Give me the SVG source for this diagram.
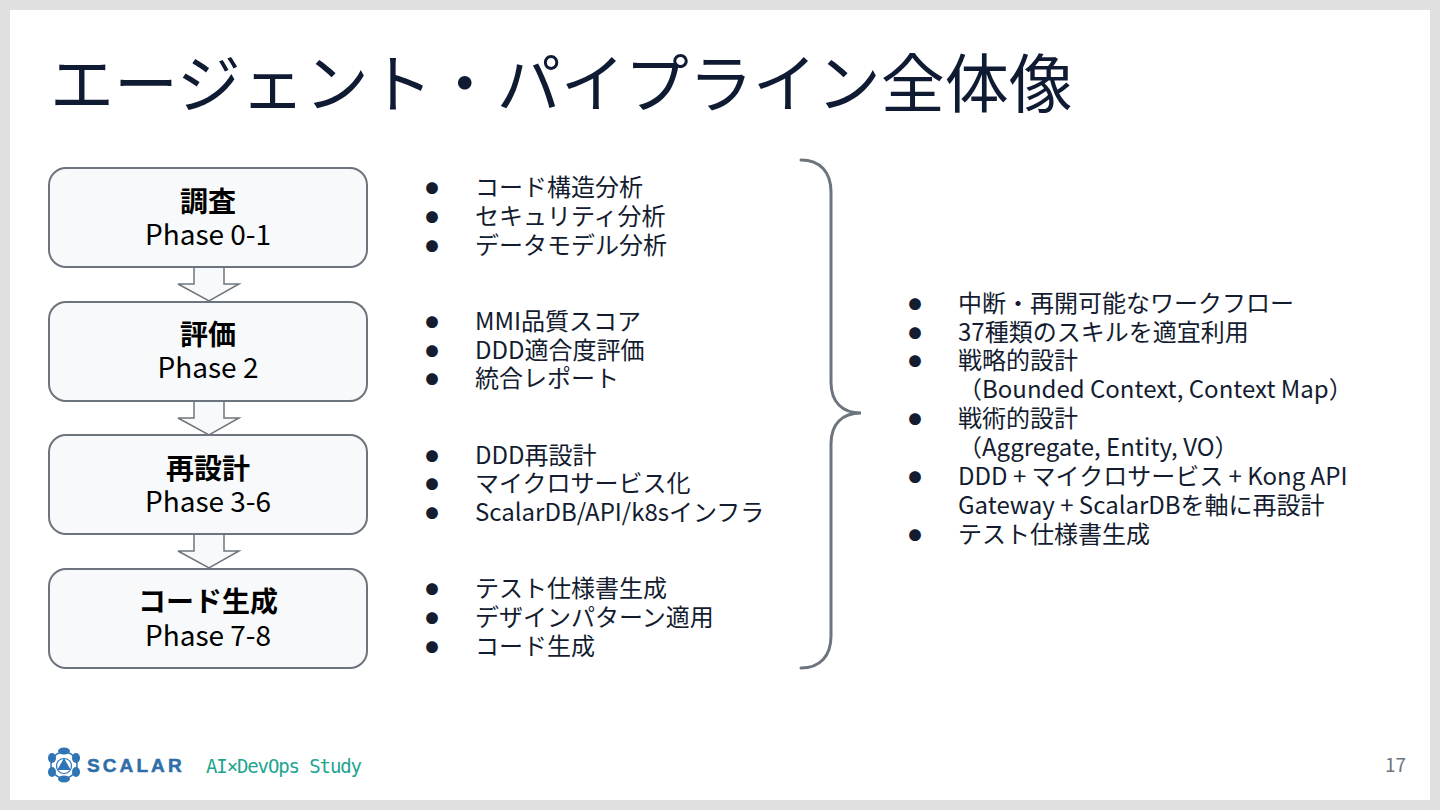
<svg xmlns="http://www.w3.org/2000/svg" width="1440" height="810" viewBox="0 0 1440 810">
<style>
text{font-family:"Noto Sans CJK JP","Noto Sans",sans-serif;fill:#000}
.t{font-size:24px;fill:#141c30}
.d{font-size:13px;fill:#141c30;text-anchor:middle}
.h{font-size:28px;font-weight:700;text-anchor:middle}
.p{font-size:28px;text-anchor:middle}
.box{fill:#f8f9fa;stroke:#6c757d;stroke-width:2}
.arr{fill:#f8f9fa;stroke:#6c757d;stroke-width:1.5}
</style>
<defs><rect id="r" width="318" height="99" rx="17" class="box"/><path id="a" d="M194 267h30v17h15l-30 17-31-17h16z" class="arr"/></defs>
<rect width="1440" height="810" fill="#e0e0e0"/>
<rect x="10" y="10" width="1420" height="790" fill="#fff"/>
<text x="50" y="107" font-size="64" style="fill:#0f1b33">エージェント・パイプライン全体像</text>
<g id="connectors">
<use href="#a"/><use href="#a" y="134"/><use href="#a" y="267"/>
<path d="M801 160C820 160 831 172 831 192V382C831 402 842 413 861 413C842 413 831 424 831 444V636C831 656 820 668 801 668" fill="none" stroke="#6c757d" stroke-width="3" stroke-linecap="round"/>
</g>
<g id="n1"><use href="#r" x="49" y="168"/><text class="h" x="208" y="212">調査</text><text class="p" x="208" y="245">Phase 0-1</text></g>
<g id="n2"><use href="#r" x="49" y="302"/><text class="h" x="208" y="345">評価</text><text class="p" x="208" y="378">Phase 2</text></g>
<g id="n3"><use href="#r" x="49" y="435"/><text class="h" x="208" y="479">再設計</text><text class="p" x="208" y="512">Phase 3-6</text></g>
<g id="n4"><use href="#r" x="49" y="569"/><text class="h" x="208" y="612">コード生成</text><text class="p" x="208" y="646">Phase 7-8</text></g>
<g id="list1">
<text class="d" x="432" y="193">●</text><text class="t" x="475" y="196">コード構造分析</text>
<text class="d" x="432" y="222">●</text><text class="t" x="475" y="225">セキュリティ分析</text>
<text class="d" x="432" y="251">●</text><text class="t" x="475" y="254">データモデル分析</text>
<text class="d" x="432" y="327">●</text><text class="t" x="475" y="330">MMI品質スコア</text>
<text class="d" x="432" y="356">●</text><text class="t" x="475" y="359">DDD適合度評価</text>
<text class="d" x="432" y="384">●</text><text class="t" x="475" y="387">統合レポート</text>
<text class="d" x="432" y="461">●</text><text class="t" x="475" y="464">DDD再設計</text>
<text class="d" x="432" y="489">●</text><text class="t" x="475" y="492">マイクロサービス化</text>
<text class="d" x="432" y="518">●</text><text class="t" x="475" y="521">ScalarDB/API/k8sインフラ</text>
<text class="d" x="432" y="594">●</text><text class="t" x="475" y="597">テスト仕様書生成</text>
<text class="d" x="432" y="623">●</text><text class="t" x="475" y="626">デザインパターン適用</text>
<text class="d" x="432" y="652">●</text><text class="t" x="475" y="655">コード生成</text>
</g>
<g id="list2">
<text class="d" x="915" y="309">●</text><text class="t" x="958" y="312">中断・再開可能なワークフロー</text>
<text class="d" x="915" y="338">●</text><text class="t" x="958" y="341">37種類のスキルを適宜利用</text>
<text class="d" x="915" y="366">●</text><text class="t" x="958" y="369">戦略的設計</text>
<text class="t" x="958" y="398">（Bounded Context, Context Map）</text>
<text class="d" x="915" y="424">●</text><text class="t" x="958" y="427">戦術的設計</text>
<text class="t" x="958" y="456">（Aggregate, Entity, VO）</text>
<text class="d" x="915" y="482">●</text><text class="t" x="958" y="485">DDD + マイクロサービス + Kong API</text>
<text class="t" x="958" y="514">Gateway + ScalarDBを軸に再設計</text>
<text class="d" x="915" y="540">●</text><text class="t" x="958" y="543">テスト仕様書生成</text>
</g>
<g id="logo">
<circle cx="64" cy="765" r="13" fill="none" stroke="#2f74b5" stroke-width="1.5"/>
<path d="M64 760l5 9h-10z" fill="#2f74b5" stroke="#2f74b5" stroke-width="2"/>
<circle cx="64" cy="766" r="7.5" fill="none" stroke="#2f74b5" stroke-width="1.2"/>
<g fill="#2f74b5"><ellipse cx="64" cy="751" rx="6" ry="3.5"/><ellipse cx="64" cy="779" rx="6" ry="3.5"/><ellipse cx="52" cy="758" rx="4" ry="5"/><ellipse cx="76" cy="758" rx="4" ry="5"/><ellipse cx="52" cy="772" rx="4" ry="5"/><ellipse cx="76" cy="772" rx="4" ry="5"/></g>
<text x="87" y="772" font-size="19" font-weight="700" letter-spacing="3.1" stroke="#2f6ea8" stroke-width=".5" style="font-family:'Liberation Sans',sans-serif;fill:#2f6ea8">SCALAR</text>
<text x="206" y="773" font-size="19" style="font-family:'DejaVu Sans Mono',monospace;fill:#21a48f" textLength="156">AI×DevOps Study</text>
</g>
<text x="1406" y="772" font-size="19" text-anchor="end" style="fill:#6c757d">17</text>
</svg>
